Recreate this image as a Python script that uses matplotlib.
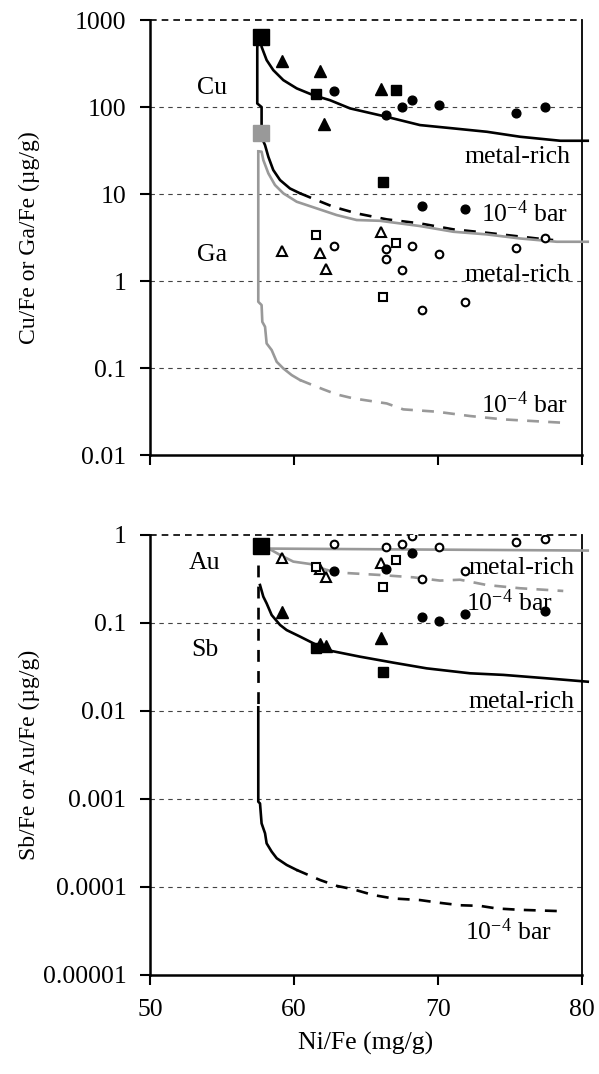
import matplotlib
matplotlib.use('Agg')
import matplotlib.pyplot as plt

plt.rcParams['font.family'] = ['Liberation Serif', 'DejaVu Serif']
plt.rcParams['mathtext.fontset'] = 'custom'
plt.rcParams['mathtext.rm'] = 'Liberation Serif'
plt.rcParams['mathtext.it'] = 'Liberation Serif:italic'

# ---- samples, top panel (Cu filled, Ga open) ----
cu_tri_x = [59.2, 61.8, 62.1, 66.05]
cu_tri_y = [340, 259, 64, 160]
cu_sq_x = [61.55, 67.1, 66.15]
cu_sq_y = [141, 157, 13.7]
cu_circ_x = [62.8, 66.4, 67.5, 68.2, 70.1, 75.4, 77.4, 68.9, 71.9]
cu_circ_y = [153, 82, 99, 122, 106, 86, 99, 7.35, 6.73]

ga_tri_x = [59.2, 61.8, 62.2, 66.05]
ga_tri_y = [2.23, 2.11, 1.36, 3.69]
ga_sq_x = [61.55, 67.1, 66.15]
ga_sq_y = [3.38, 2.71, 0.66]
ga_circ_x = [62.8, 66.4, 66.4, 67.5, 68.2, 70.1, 68.9, 71.9, 75.4, 77.4]
ga_circ_y = [2.52, 2.33, 1.77, 1.34, 2.52, 2.04, 0.46, 0.57, 2.38, 3.15]

# ---- samples, bottom panel (Sb filled, Au open) ----
au_tri_x = [59.2, 61.8, 62.2, 66.05]
au_tri_y = [0.552, 0.411, 0.336, 0.485]
au_sq_x = [61.55, 67.1, 66.15]
au_sq_y = [0.436, 0.52, 0.259]
au_circ_x = [62.8, 66.4, 67.5, 68.2, 70.1, 75.4, 77.4, 68.9, 71.9]
au_circ_y = [0.784, 0.736, 0.784, 0.98, 0.736, 0.839, 0.90, 0.313, 0.393]

sb_tri_x = [59.2, 61.8, 62.2, 66.05]
sb_tri_y = [0.134, 0.0577, 0.0548, 0.067]
sb_sq_x = [61.55, 66.15]
sb_sq_y = [0.0524, 0.028]
sb_circ_x = [62.8, 66.4, 68.2, 68.9, 70.1, 71.9, 77.4]
sb_circ_y = [0.39, 0.411, 0.63, 0.118, 0.104, 0.126, 0.138]

# starting compositions
start_x = 57.7
cu_start = 640
ga_start = 51
au_start = 0.74

# ---- model curves (metal-rich and 10^-4 bar) ----
cu_rich_x = [57.7, 57.75, 58.1, 58.56, 59.26, 60.19, 61.34, 62.5, 63.89, 66.4, 68.75, 71.06, 73.4, 75.7, 78.5, 80.4]
cu_rich_y = [640, 493, 347, 266, 204, 164, 137, 120, 96.6, 77.5, 62.1, 56.9, 52, 45.6, 41, 41]
cu_lo_x = [57.5, 57.45, 57.45, 57.75, 57.75, 57.99, 58.22, 58.56, 59.03, 59.72, 60.42, 61.57, 62.73, 64.35,
           66.44, 68.75, 71.06, 73.38, 76.85, 78.0]
cu_lo_y = [640, 480, 110, 100, 45, 36.5, 26.8, 18.9, 14.5, 11.6, 10.2, 8.53, 7.14, 6.0,
           5.12, 4.6, 3.93, 3.59, 3.09, 2.96]

ga_rich_x = [57.55, 57.75, 57.87, 58.22, 58.68, 59.26, 60.19, 61.57, 62.96, 64.35, 65.97, 68.75, 71.06, 73.38,
             75.69, 78.24, 80.4]
ga_rich_y = [31, 30.7, 24.6, 17.3, 12.7, 10.2, 8.16, 6.85, 5.74, 5.03, 4.93, 4.29, 3.69, 3.44,
             3.09, 2.83, 2.83]
ga_lo_x = [57.52, 57.52, 57.75, 57.8, 57.99, 58.1, 58.45, 58.8, 59.26, 59.84, 60.42, 61.11, 62.04, 62.96,
           64.12, 66.44, 67.59, 69.91, 72.22, 74.54, 78.7]
ga_lo_y = [31, 0.578, 0.53, 0.34, 0.298, 0.192, 0.161, 0.118, 0.099, 0.083, 0.0728, 0.0655, 0.0569, 0.0498,
           0.0448, 0.0392, 0.0335, 0.0315, 0.0281, 0.0257, 0.0235]

au_rich_x = [57.7, 58.3, 80.4]
au_rich_y = [0.72, 0.70, 0.665]
au_lo_x = [57.7, 58.33, 59.03, 59.95, 61.11, 62.27, 63.19, 65.97, 68.29, 70.14, 71.53, 73.38, 75.69, 78.7]
au_lo_y = [0.72, 0.688, 0.593, 0.498, 0.468, 0.40, 0.373, 0.351, 0.330, 0.303, 0.31, 0.27, 0.248, 0.231]

sb_rich_x = [57.64, 57.87, 58.1, 58.45, 59.03, 59.49, 60.42, 62.27, 64.58, 66.9, 69.21, 72.22, 74.54, 77.55, 80.4]
sb_rich_y = [0.27, 0.199, 0.167, 0.123, 0.095, 0.083, 0.07, 0.0493, 0.0414, 0.0354, 0.0305, 0.0268, 0.0257,
             0.0235, 0.0215]
sb_lo_x = [57.52, 57.52, 57.52, 57.64, 57.75, 57.99, 58.1, 58.45, 58.8, 59.49, 60.19, 60.99, 61.81, 62.96,
           64.12, 65.5, 66.9, 68.75, 70.14, 71.53, 72.92, 74.07, 75.69, 78.7]
sb_lo_y = [0.45, 0.011, 0.00093, 0.00089, 0.000528, 0.000407, 0.000313, 0.000252, 0.000212, 0.000178,
           0.000156, 0.000137, 0.00012, 0.000103, 9.4e-5, 8.1e-5, 7.4e-5, 7.1e-5, 6.6e-5, 6.2e-5, 6.1e-5,
           5.7e-5, 5.5e-5, 5.3e-5]

top_ticks = [0.01, 0.1, 1, 10, 100, 1000]
top_labels = ['0.01', '0.1', '1', '10', '100', '1000']
bot_ticks = [1e-5, 1e-4, 1e-3, 1e-2, 0.1, 1]
bot_labels = ['0.00001', '0.0001', '0.001', '0.01', '0.1', '1']
x_ticks = [50, 60, 70, 80]

GRAY = '#999999'
FS = 18.5
LW = 1.9


def draw_curve(ax, x, y, color, segments):
    # segments: (start index, end index, linestyle)
    for i0, i1, ls in segments:
        xs = x[i0:i1 + 1] if i1 is not None else x[i0:]
        ys = y[i0:i1 + 1] if i1 is not None else y[i0:]
        if ls == '-':
            ax.plot(xs, ys, color=color, lw=LW, zorder=3, clip_on=False)
        else:
            ax.plot(xs, ys, color=color, lw=LW, dashes=(4.5, 3.5), zorder=3)


def style_axes(ax, ticks, labels):
    ax.set_yscale('log')
    ax.set_xlim(50, 80)
    ax.set_ylim(ticks[0], ticks[-1])
    ax.set_yticks(ticks)
    ax.set_yticklabels(labels)
    ax.minorticks_off()
    ax.set_xticks(x_ticks)
    for t in ticks[1:-1]:
        ax.axhline(t, color='#444444', lw=0.8, dashes=(4, 4), zorder=1)
    # dashed top edge like the original
    ax.axhline(ticks[-1], color='black', lw=1.2, dashes=(4, 3), zorder=4, clip_on=False)
    ax.spines['top'].set_visible(False)
    ax.spines['left'].set_linewidth(1.8)
    ax.spines['bottom'].set_linewidth(1.8)
    ax.spines['right'].set_linewidth(1.3)
    ax.tick_params(direction='out', length=7, width=1.5, labelsize=FS, pad=10)


def filled(ax, x, y, m, ms):
    ax.plot(x, y, ls='none', marker=m, ms=ms, mfc='black', mec='black', zorder=5)


def hollow(ax, x, y, m, ms):
    ax.plot(x, y, ls='none', marker=m, ms=ms, mfc='white', mec='black', mew=1.5, zorder=5)


fig = plt.figure(figsize=(5.99, 10.74), dpi=100)
ax1 = fig.add_axes([0.2504, 0.5763, 0.7212, 0.405])
ax2 = fig.add_axes([0.2504, 0.0922, 0.7212, 0.4097])

# ---- top panel ----
style_axes(ax1, top_ticks, top_labels)
ax1.tick_params(labelbottom=False)
draw_curve(ax1, cu_rich_x, cu_rich_y, 'black', [(0, None, '-')])
draw_curve(ax1, cu_lo_x, cu_lo_y, 'black', [(0, 10, '-'), (10, None, '--')])
draw_curve(ax1, ga_rich_x, ga_rich_y, GRAY, [(0, None, '-')])
draw_curve(ax1, ga_lo_x, ga_lo_y, GRAY, [(0, 10, '-'), (10, None, '--')])

filled(ax1, cu_tri_x, cu_tri_y, '^', 8)
filled(ax1, cu_sq_x, cu_sq_y, 's', 6.5)
filled(ax1, cu_circ_x, cu_circ_y, 'o', 6.3)
hollow(ax1, ga_tri_x, ga_tri_y, '^', 7)
hollow(ax1, ga_sq_x, ga_sq_y, 's', 6)
hollow(ax1, ga_circ_x, ga_circ_y, 'o', 5.5)
ax1.plot([start_x], [cu_start], ls='none', marker='s', ms=11.5, color='black', zorder=6)
ax1.plot([start_x], [ga_start], ls='none', marker='s', ms=11.5, color=GRAY, zorder=6)

ax1.text(54.3, 165, 'Cu', fontsize=FS, ha='center', va='center')
ax1.text(54.3, 1.99, 'Ga', fontsize=FS, ha='center', va='center')
ax1.text(79.2, 26.8, 'metal-rich', fontsize=FS, ha='right', va='center')
ax1.text(79.0, 6.0, '10$^{-4}$ bar', fontsize=FS, ha='right', va='center')
ax1.text(79.2, 1.17, 'metal-rich', fontsize=FS, ha='right', va='center')
ax1.text(79.0, 0.0376, '10$^{-4}$ bar', fontsize=FS, ha='right', va='center')
ax1.set_ylabel('Cu/Fe or Ga/Fe (\u00b5g/g)', fontsize=17)
ax1.yaxis.set_label_coords(-0.255, 0.5)

# ---- bottom panel ----
style_axes(ax2, bot_ticks, bot_labels)
draw_curve(ax2, au_rich_x, au_rich_y, GRAY, [(0, None, '-')])
draw_curve(ax2, au_lo_x, au_lo_y, GRAY, [(0, 5, '-'), (5, None, '--')])
draw_curve(ax2, sb_rich_x, sb_rich_y, 'black', [(0, None, '-')])
draw_curve(ax2, sb_lo_x, sb_lo_y, 'black', [(0, 1, '--'), (1, 10, '-'), (10, None, '--')])

hollow(ax2, au_tri_x, au_tri_y, '^', 7)
hollow(ax2, au_sq_x, au_sq_y, 's', 6)
hollow(ax2, au_circ_x, au_circ_y, 'o', 5.5)
filled(ax2, sb_tri_x, sb_tri_y, '^', 8)
filled(ax2, sb_sq_x, sb_sq_y, 's', 6.5)
filled(ax2, sb_circ_x, sb_circ_y, 'o', 6.3)
ax2.plot([start_x], [au_start], ls='none', marker='s', ms=11.5, color='black', zorder=6)

ax2.text(53.8, 0.48, 'Au', fontsize=FS, ha='center', va='center')
ax2.text(53.8, 0.049, 'Sb', fontsize=FS, ha='center', va='center')
ax2.text(79.5, 0.418, 'metal-rich', fontsize=FS, ha='right', va='center')
ax2.text(78.0, 0.169, '10$^{-4}$ bar', fontsize=FS, ha='right', va='center')
ax2.text(79.5, 0.0128, 'metal-rich', fontsize=FS, ha='right', va='center')
ax2.text(77.9, 3.1e-5, '10$^{-4}$ bar', fontsize=FS, ha='right', va='center')
ax2.set_ylabel('Sb/Fe or Au/Fe (\u00b5g/g)', fontsize=17)
ax2.yaxis.set_label_coords(-0.255, 0.5)
ax2.set_xlabel('Ni/Fe (mg/g)', fontsize=FS, labelpad=8)

fig.savefig('out.png', dpi=100)
